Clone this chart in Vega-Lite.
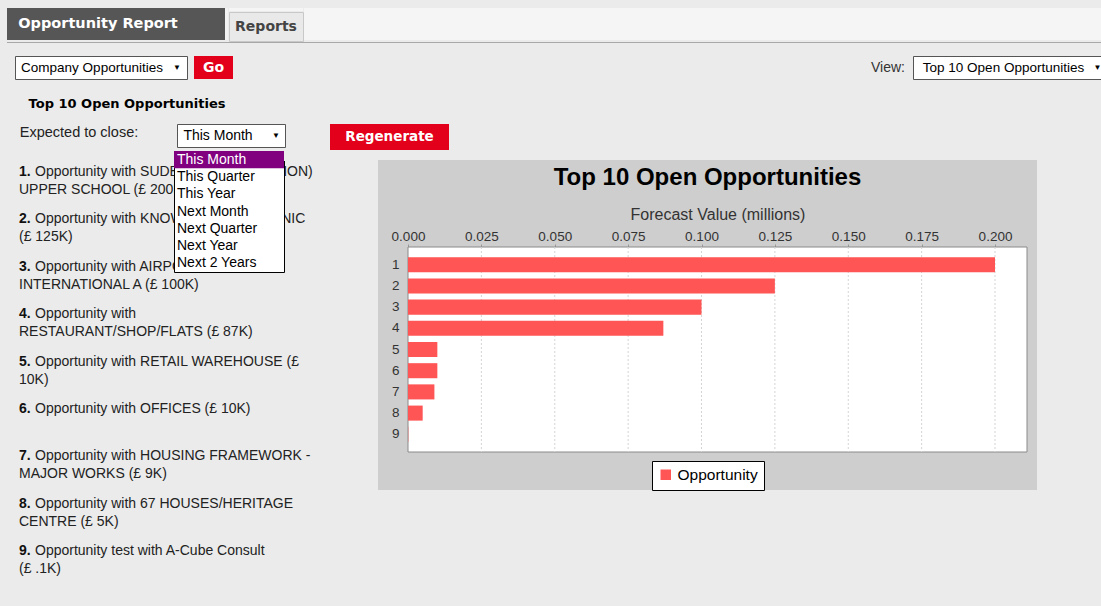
{
  "$schema": "https://vega.github.io/schema/vega-lite/v6.json",
  "background": "#ebebeb",
  "padding": {"left": 7, "top": 8, "right": 0, "bottom": 16},
  "config": {"font": "Liberation Sans", "view": {"stroke": null}, "concat": {"spacing": 0}},
  "spacing": 0,
  "vconcat": [
    {
      "spacing": 0,
      "hconcat": [
        {"width": 218, "height": 32, "view": {"fill": "#565656"}, "data": {"values": [{"t": "Opportunity Report"}]},
         "mark": {"type": "text", "font": "DejaVu Sans", "fontSize": 14.5, "fontWeight": "bold", "color": "white", "dx": -18}, "encoding": {"text": {"field": "t"}}},
        {"width": 3, "height": 32, "view": {"fill": "#f3f3f3"}, "data": {"values": [{"t": ""}]}, "mark": {"type": "text", "fontSize": 0}, "encoding": {"text": {"field": "t"}}},
        {"spacing": 0, "vconcat": [
          {"width": 74, "height": 3, "view": {"fill": "#f5f5f5"}, "data": {"values": [{"t": ""}]}, "mark": {"type": "text", "fontSize": 0}, "encoding": {"text": {"field": "t"}}},
          {"width": 74, "height": 29, "view": {"fill": "#e9e9e9", "stroke": "#c8c8c8"}, "data": {"values": [{"t": "Reports"}]},
           "mark": {"type": "text", "font": "DejaVu Sans", "fontSize": 14, "fontWeight": "bold", "color": "#444"}, "encoding": {"text": {"field": "t"}}}
        ]},
        {"width": 799, "height": 32, "view": {"fill": "#f5f5f5"}, "data": {"values": [{"t": ""}]}, "mark": {"type": "text", "fontSize": 0}, "encoding": {"text": {"field": "t"}}}
      ]
    },
    {"width": 1094, "height": 1, "view": {"fill": "#a8a8a8"}, "data": {"values": [{"t": ""}]}, "mark": {"type": "text", "fontSize": 0}, "encoding": {"text": {"field": "t"}}},
    {
      "spacing": 0,
      "vconcat": [
        {"width": 1, "height": 12, "view": {"fill": "#ebebeb"}, "data": {"values": [{"t": ""}]}, "mark": {"type": "text", "fontSize": 0}, "encoding": {"text": {"field": "t"}}},
        {"spacing": 0, "hconcat": [
          {"width": 7, "height": 23, "view": {"fill": "#ebebeb"}, "data": {"values": [{"t": ""}]}, "mark": {"type": "text", "fontSize": 0}, "encoding": {"text": {"field": "t"}}},
          {"width": 172, "height": 23, "view": {"fill": "white", "stroke": "#555555"}, "data": {"values": [{"t": "Company Opportunities"}]},
           "layer": [
             {"mark": {"type": "text", "fontSize": 13.5, "color": "#000", "dx": -9}, "encoding": {"text": {"field": "t"}}},
             {"mark": {"type": "text", "text": "▼", "fontSize": 8, "color": "#000", "dx": 76}, "encoding": {}}
           ]},
          {"width": 6, "height": 23, "view": {"fill": "#ebebeb"}, "data": {"values": [{"t": ""}]}, "mark": {"type": "text", "fontSize": 0}, "encoding": {"text": {"field": "t"}}},
          {"width": 39, "height": 23, "view": {"fill": "#e2001a"}, "data": {"values": [{"t": "Go"}]},
           "mark": {"type": "text", "font": "DejaVu Sans", "fontSize": 14, "fontWeight": "bold", "color": "white"}, "encoding": {"text": {"field": "t"}}},
          {"width": 637, "height": 23, "view": {"fill": "#ebebeb"}, "data": {"values": [{"t": ""}]}, "mark": {"type": "text", "fontSize": 0}, "encoding": {"text": {"field": "t"}}},
          {"width": 42, "height": 23, "view": {"fill": "#ebebeb"}, "data": {"values": [{"t": "View:"}]},
           "mark": {"type": "text", "fontSize": 14, "color": "#333", "dx": -3}, "encoding": {"text": {"field": "t"}}},
          {"width": 191, "height": 23, "view": {"fill": "white", "stroke": "#555555"}, "data": {"values": [{"t": "Top 10 Open Opportunities"}]},
           "layer": [
             {"mark": {"type": "text", "fontSize": 13.5, "color": "#000", "dx": -5}, "encoding": {"text": {"field": "t"}}},
             {"mark": {"type": "text", "text": "▼", "fontSize": 8, "color": "#000", "dx": 89}, "encoding": {}}
           ]}
        ]}
      ]
    },
    {
      "spacing": 0,
      "vconcat": [
        {"width": 1, "height": 12, "view": {"fill": "#ebebeb"}, "data": {"values": [{"t": ""}]}, "mark": {"type": "text", "fontSize": 0}, "encoding": {"text": {"field": "t"}}},
        {"spacing": 0, "hconcat": [
          {"width": 21, "height": 24, "view": {"fill": "#ebebeb"}, "data": {"values": [{"t": ""}]}, "mark": {"type": "text", "fontSize": 0}, "encoding": {"text": {"field": "t"}}},
          {"width": 194, "height": 24, "view": {"fill": "#ebebeb"}, "data": {"values": [{"t": "Top 10 Open Opportunities"}]},
           "mark": {"type": "text", "font": "DejaVu Sans", "fontSize": 13, "fontWeight": "bold", "color": "#000"}, "encoding": {"text": {"field": "t"}}}
        ]}
      ]
    },
    {
      "spacing": 0,
      "vconcat": [
        {"width": 1, "height": 7, "view": {"fill": "#ebebeb"}, "data": {"values": [{"t": ""}]}, "mark": {"type": "text", "fontSize": 0}, "encoding": {"text": {"field": "t"}}},
        {"spacing": 0, "hconcat": [
          {"width": 12, "height": 26, "view": {"fill": "#ebebeb"}, "data": {"values": [{"t": ""}]}, "mark": {"type": "text", "fontSize": 0}, "encoding": {"text": {"field": "t"}}},
          {"width": 118, "height": 26, "view": {"fill": "#ebebeb"}, "data": {"values": [{"t": "Expected to close:"}]},
           "mark": {"type": "text", "fontSize": 14.5, "color": "#222", "dy": -4}, "encoding": {"text": {"field": "t"}}},
          {"width": 37, "height": 26, "view": {"fill": "#ebebeb"}, "data": {"values": [{"t": ""}]}, "mark": {"type": "text", "fontSize": 0}, "encoding": {"text": {"field": "t"}}},
          {"width": 108, "height": 23, "view": {"fill": "white", "stroke": "#555555"}, "data": {"values": [{"t": "This Month"}]},
           "layer": [
             {"mark": {"type": "text", "fontSize": 14, "color": "#000", "dx": -13}, "encoding": {"text": {"field": "t"}}},
             {"mark": {"type": "text", "text": "▼", "fontSize": 8, "color": "#000", "dx": 45}, "encoding": {}}
           ]},
          {"width": 44, "height": 26, "view": {"fill": "#ebebeb"}, "data": {"values": [{"t": ""}]}, "mark": {"type": "text", "fontSize": 0}, "encoding": {"text": {"field": "t"}}},
          {"width": 119, "height": 26, "view": {"fill": "#e2001a"}, "data": {"values": [{"t": "Regenerate"}]},
           "mark": {"type": "text", "font": "DejaVu Sans", "fontSize": 13.5, "fontWeight": "bold", "color": "white"}, "encoding": {"text": {"field": "t"}}}
        ]}
      ]
    },
    {
      "spacing": 0,
      "hconcat": [
        {
          "bounds": "flush", "spacing": 0,
          "hconcat": [
            {"width": 12, "height": 445, "view": {"fill": "#ebebeb"}, "data": {"values": [{"t": ""}]}, "mark": {"type": "text", "fontSize": 0}, "encoding": {"text": {"field": "t"}}},
            {
              "width": 155, "height": 445,
              "view": {"fill": "#ebebeb"},
              "data": {"values": [
                {"i": 1, "n": "1.", "a": "Opportunity with SUDBURY (FOUNDATION)", "b": "UPPER SCHOOL (£ 200K)"},
                {"i": 2, "n": "2.", "a": "Opportunity with KNOWSLEY POLYCLINIC", "b": "(£ 125K)"},
                {"i": 3, "n": "3.", "a": "Opportunity with AIRPORT HOTEL", "b": "INTERNATIONAL A (£ 100K)"},
                {"i": 4, "n": "4.", "a": "Opportunity with", "b": "RESTAURANT/SHOP/FLATS (£ 87K)"},
                {"i": 5, "n": "5.", "a": "Opportunity with RETAIL WAREHOUSE (£", "b": "10K)"},
                {"i": 6, "n": "6.", "a": "Opportunity with OFFICES (£ 10K)", "b": ""},
                {"i": 7, "n": "7.", "a": "Opportunity with HOUSING FRAMEWORK -", "b": "MAJOR WORKS (£ 9K)"},
                {"i": 8, "n": "8.", "a": "Opportunity with 67 HOUSES/HERITAGE", "b": "CENTRE (£ 5K)"},
                {"i": 9, "n": "9.", "a": "Opportunity test with A-Cube Consult", "b": "(£ .1K)"}
              ]},
              "encoding": {
                "y": {"field": "i", "type": "ordinal", "scale": {"type": "point", "padding": 0, "range": [14, 393]}, "axis": null},
                "x": {"value": 0}
              },
              "layer": [
                {"mark": {"type": "text", "align": "left", "baseline": "top", "fontSize": 14, "fontWeight": "bold", "color": "#111"}, "encoding": {"text": {"field": "n"}}},
                {"mark": {"type": "text", "align": "left", "baseline": "top", "fontSize": 14, "color": "#222", "dx": 16}, "encoding": {"text": {"field": "a"}}},
                {"mark": {"type": "text", "align": "left", "baseline": "top", "fontSize": 14, "color": "#222", "dy": 18}, "encoding": {"text": {"field": "b"}}}
              ]
            },
            {
              "width": 110, "height": 121,
              "view": {"fill": "white", "stroke": "#000000", "strokeWidth": 1},
              "data": {"values": [
                {"o": "This Month"}, {"o": "This Quarter"}, {"o": "This Year"}, {"o": "Next Month"},
                {"o": "Next Quarter"}, {"o": "Next Year"}, {"o": "Next 2 Years"}
              ]},
              "encoding": {
                "y": {"field": "o", "type": "nominal", "axis": null,
                      "scale": {"domain": ["This Month", "This Quarter", "This Year", "Next Month", "Next Quarter", "Next Year", "Next 2 Years"], "paddingInner": 0, "paddingOuter": 0}}
              },
              "layer": [
                {"transform": [{"filter": "datum.o === 'This Month'"}], "mark": {"type": "rect", "color": "#800080"}, "encoding": {}},
                {"mark": {"type": "text", "align": "left", "fontSize": 14, "dx": 3},
                 "encoding": {"x": {"value": 0}, "text": {"field": "o"},
                              "color": {"condition": {"test": "datum.o === 'This Month'", "value": "white"}, "value": "black"}}}
              ]
            },
            {"width": 94, "height": 10, "view": {"fill": "#ebebeb"}, "data": {"values": [{"t": ""}]}, "mark": {"type": "text", "fontSize": 0}, "encoding": {"text": {"field": "t"}}}
          ]
        },
        {
          "spacing": 0,
          "vconcat": [
            {"width": 1, "height": 9, "view": {"fill": "#ebebeb"}, "data": {"values": [{"t": ""}]}, "mark": {"type": "text", "fontSize": 0}, "encoding": {"text": {"field": "t"}}},
            {
              "width": 659, "height": 330,
              "view": {"fill": "#cecece", "stroke": null},
              "title": {"text": "Top 10 Open Opportunities", "fontSize": 24, "fontWeight": "bold", "color": "#000", "offset": -30, "anchor": "middle", "font": "Liberation Sans"},
              "data": {"values": [
                {"r": "1", "v": 0.2}, {"r": "2", "v": 0.125}, {"r": "3", "v": 0.1}, {"r": "4", "v": 0.087},
                {"r": "5", "v": 0.01}, {"r": "6", "v": 0.01}, {"r": "7", "v": 0.009}, {"r": "8", "v": 0.005}, {"r": "9", "v": 0.0001}
              ]},
              "resolve": {"scale": {"y": "independent"}},
              "layer": [
                {
                  "data": {"values": [{"p": "plot"}]},
                  "mark": {"type": "rect", "fill": "white", "stroke": "#8a8a8a", "strokeWidth": 1},
                  "encoding": {
                    "x": {"datum": 0, "type": "quantitative", "scale": {"domain": [0, 0.2109], "range": [30, 649], "nice": false, "zero": false},
                          "axis": {"orient": "top", "offset": -87, "values": [0, 0.025, 0.05, 0.075, 0.1, 0.125, 0.15, 0.175, 0.2], "format": ".3f", "grid": false, "domain": false, "tickSize": 3, "tickColor": "#999", "labelFontSize": 13.5, "labelColor": "#333", "labelPadding": 1, "labelFlush": false, "labelOverlap": false, "title": "Forecast Value (millions)", "titleFontSize": 16, "titleFontWeight": "normal", "titleColor": "#333", "titlePadding": 7}},
                    "x2": {"datum": 0.2109},
                    "y": {"datum": 0, "type": "quantitative", "scale": {"domain": [0, 1], "range": [87, 292]}, "axis": null},
                    "y2": {"datum": 1}
                  }
                },
                {
                  "data": {"values": [{"g": 0.025}, {"g": 0.05}, {"g": 0.075}, {"g": 0.1}, {"g": 0.125}, {"g": 0.15}, {"g": 0.175}, {"g": 0.2}]},
                  "mark": {"type": "rule", "color": "#d4d4d4", "strokeDash": [2, 2], "strokeWidth": 1},
                  "encoding": {
                    "x": {"field": "g", "type": "quantitative",
                          "axis": {"orient": "top", "offset": -87, "values": [0, 0.025, 0.05, 0.075, 0.1, 0.125, 0.15, 0.175, 0.2], "format": ".3f", "grid": false, "domain": false, "tickSize": 3, "tickColor": "#999", "labelFontSize": 13.5, "labelColor": "#333", "labelPadding": 1, "labelFlush": false, "labelOverlap": false, "title": "Forecast Value (millions)", "titleFontSize": 16, "titleFontWeight": "normal", "titleColor": "#333", "titlePadding": 7}},
                    "y": {"datum": 0, "type": "quantitative", "scale": {"domain": [0, 1], "range": [87, 292]}, "axis": null},
                    "y2": {"datum": 1}
                  }
                },
                {
                  "mark": {"type": "bar"},
                  "encoding": {
                    "y": {"field": "r", "type": "nominal",
                          "scale": {"domain": ["1", "2", "3", "4", "5", "6", "7", "8", "9"], "range": [87, 292], "paddingInner": 0.29, "paddingOuter": 0.48},
                          "axis": {"orient": "left", "offset": -30, "domain": false, "ticks": false, "labelFontSize": 13.5, "labelColor": "#333", "labelPadding": 9, "title": null}},
                    "x": {"field": "v", "type": "quantitative",
                          "axis": {"orient": "top", "offset": -87, "values": [0, 0.025, 0.05, 0.075, 0.1, 0.125, 0.15, 0.175, 0.2], "format": ".3f", "grid": false, "domain": false, "tickSize": 3, "tickColor": "#999", "labelFontSize": 13.5, "labelColor": "#333", "labelPadding": 1, "labelFlush": false, "labelOverlap": false, "title": "Forecast Value (millions)", "titleFontSize": 16, "titleFontWeight": "normal", "titleColor": "#333", "titlePadding": 7}},
                    "color": {"datum": "Opportunity", "type": "nominal", "scale": {"range": ["#ff5555"]},
                              "legend": {"orient": "none", "legendX": 645, "legendY": 453, "title": null, "fillColor": "white", "strokeColor": "#000", "padding": 6, "symbolType": "square", "symbolSize": 110, "symbolStrokeWidth": 0, "labelFontSize": 15.5, "labelColor": "#000", "labelFont": "Liberation Sans"}}
                  }
                }
              ]
            }
          ]
        }
      ]
    }
  ]
}
